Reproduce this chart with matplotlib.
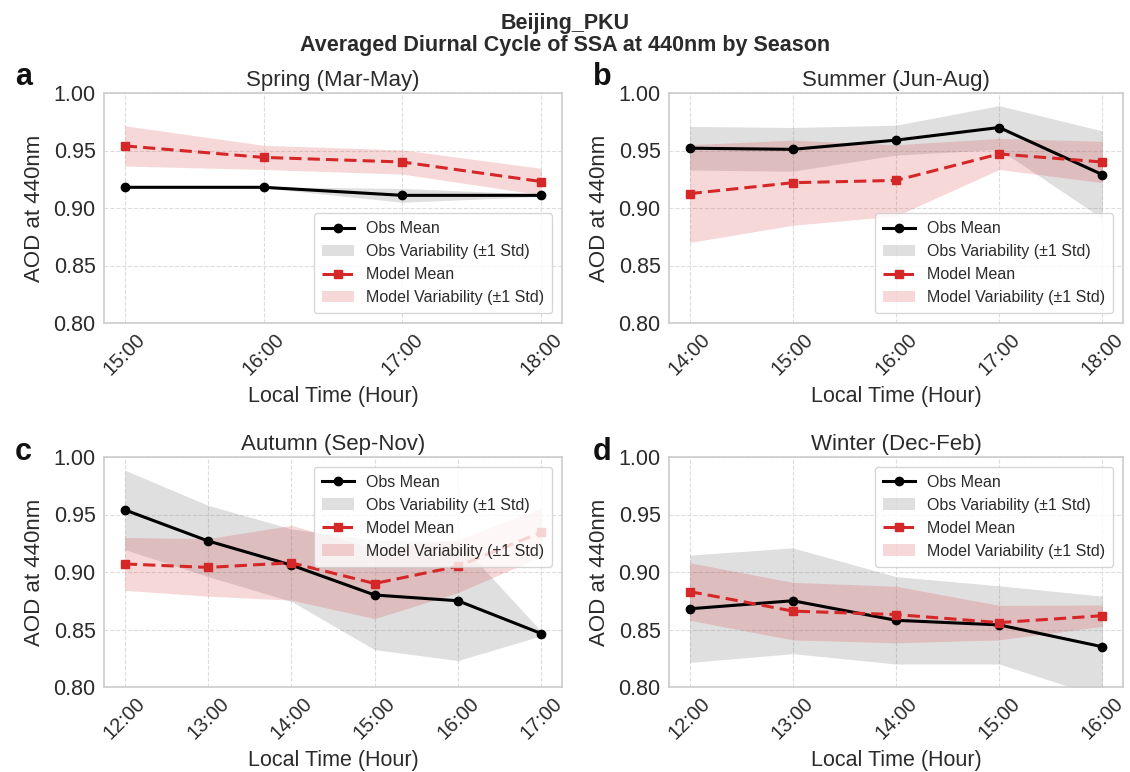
import matplotlib
matplotlib.use("Agg")
import matplotlib.pyplot as plt
import numpy as np

plt.rcParams['font.family'] = ['Liberation Sans', 'DejaVu Sans']

# ---------------- data ----------------
spring_hours = [15, 16, 17, 18]
spring_obs_mean = [0.918, 0.918, 0.911, 0.911]
spring_obs_std = [0.0005, 0.0005, 0.006, 0.001]
spring_mod_mean = [0.954, 0.944, 0.940, 0.923]
spring_mod_std = [0.0175, 0.0105, 0.0105, 0.0115]

summer_hours = [14, 15, 16, 17, 18]
summer_obs_mean = [0.952, 0.951, 0.959, 0.970, 0.929]
summer_obs_std = [0.019, 0.019, 0.013, 0.019, 0.038]
summer_mod_mean = [0.9125, 0.922, 0.924, 0.947, 0.940]
summer_mod_std = [0.0425, 0.037, 0.031, 0.0135, 0.018]

autumn_hours = [12, 13, 14, 15, 16, 17]
autumn_obs_mean = [0.954, 0.927, 0.906, 0.880, 0.875, 0.8465]
autumn_obs_std = [0.0345, 0.031, 0.0315, 0.0475, 0.052, 0.002]
autumn_mod_mean = [0.907, 0.904, 0.908, 0.890, 0.905, 0.9345]
autumn_mod_std = [0.023, 0.025, 0.0325, 0.0305, 0.023, 0.021]

winter_hours = [12, 13, 14, 15, 16]
winter_obs_mean = [0.868, 0.875, 0.858, 0.854, 0.835]
winter_obs_std = [0.0467, 0.046, 0.038, 0.034, 0.044]
winter_mod_mean = [0.883, 0.866, 0.863, 0.856, 0.862]
winter_mod_std = [0.025, 0.025, 0.0246, 0.015, 0.0093]

titles = ["Spring (Mar-May)", "Summer (Jun-Aug)", "Autumn (Sep-Nov)", "Winter (Dec-Feb)"]
letters = ["a", "b", "c", "d"]
legend_locs = ["lower right", "lower right", "upper right", "upper right"]
y_ticks = [0.80, 0.85, 0.90, 0.95, 1.00]

seasons = [
    (spring_hours, spring_obs_mean, spring_obs_std, spring_mod_mean, spring_mod_std),
    (summer_hours, summer_obs_mean, summer_obs_std, summer_mod_mean, summer_mod_std),
    (autumn_hours, autumn_obs_mean, autumn_obs_std, autumn_mod_mean, autumn_mod_std),
    (winter_hours, winter_obs_mean, winter_obs_std, winter_mod_mean, winter_mod_std),
]

# ---------------- figure ----------------
W, H = 1130, 772
fig = plt.figure(figsize=(W / 100, H / 100), dpi=100)

boxes = [
    (104, 93, 562, 323),
    (669, 93, 1123, 323),
    (104, 457, 562, 687),
    (669, 457, 1123, 687),
]

txt_col = '#2b2b2b'
spine_col = '#cccccc'
red = '#d62728'

for i, (hours, om, osd, mm, msd) in enumerate(seasons):
    x0, y0, x1, y1 = boxes[i]
    ax = fig.add_axes([x0 / W, 1 - y1 / H, (x1 - x0) / W, (y1 - y0) / H])
    hours = np.array(hours)
    om, osd, mm, msd = map(np.array, (om, osd, mm, msd))

    ax.plot(hours, om, color='black', lw=2.2, marker='o', ms=6, label='Obs Mean', zorder=4)
    ax.fill_between(hours, om - osd, om + osd, color='gray', alpha=0.25, lw=0,
                    label='Obs Variability (±1 Std)', zorder=2)
    ax.plot(hours, mm, color=red, lw=2.2, ls='--', dashes=(4, 2), marker='s', ms=6,
            label='Model Mean', zorder=5)
    ax.fill_between(hours, mm - msd, mm + msd, color=red, alpha=0.18, lw=0,
                    label='Model Variability (±1 Std)', zorder=3)

    ax.set_ylim(0.80, 1.00)
    ax.set_yticks(y_ticks)
    ax.set_yticklabels([f"{v:.2f}" for v in y_ticks])
    ax.set_xticks(hours)
    ax.set_xticklabels([f"{h}:00" for h in hours], rotation=45)
    ax.tick_params(axis='y', labelsize=15.5, colors=txt_col, length=0, pad=6)
    ax.tick_params(axis='x', labelsize=14.5, colors=txt_col, length=0, pad=5)
    ax.grid(True, ls='--', color='#dddddd', lw=0.8, zorder=0)
    ax.set_axisbelow(True)
    for s in ax.spines.values():
        s.set_color(spine_col)
        s.set_linewidth(1.2)
    ax.set_xlabel("Local Time (Hour)", fontsize=15.5, color=txt_col, labelpad=5)
    ax.set_ylabel("AOD at 440nm", fontsize=16, color=txt_col, labelpad=6)
    ax.set_title(titles[i], fontsize=16, color=txt_col, pad=5)

    leg = ax.legend(loc=legend_locs[i], fontsize=11.5, frameon=True, fancybox=True,
                    framealpha=0.8, edgecolor='#cccccc', borderpad=0.5,
                    borderaxespad=0.6)
    for t in leg.get_texts():
        t.set_color(txt_col)

    lx = 0.021 if i % 2 == 0 else 0.533
    ly = 1 - 77 / H if i < 2 else 1 - 452 / H
    fig.text(lx, ly, letters[i], fontsize=22, fontweight='bold', color='#111111',
             ha='center', va='center')

fig.suptitle("Beijing_PKU\nAveraged Diurnal Cycle of SSA at 440nm by Season",
             fontsize=15.5, fontweight='bold', color=txt_col, y=1 - 13 / H, va='top',
             linespacing=1.05)

fig.savefig("out.png", dpi=100)
